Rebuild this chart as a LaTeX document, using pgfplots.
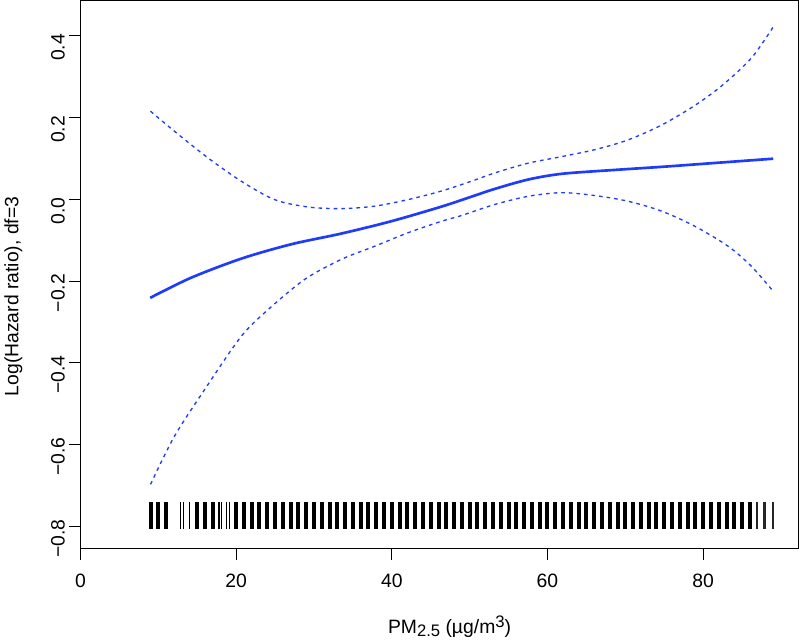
\documentclass[border=0pt]{standalone}
\usepackage{fontspec}
\setmainfont{Liberation Sans}
\usepackage{pgfplots}
\pgfplotsset{compat=1.18}
\definecolor{rblue}{RGB}{30,60,250}
\begin{document}
\begin{tikzpicture}
\begin{axis}[
  width=538.5pt, height=411pt, scale only axis,
  xmin=0, xmax=92.25, ymin=-0.8536, ymax=0.4856,
  axis line style={line width=0.75pt},
  tick style={line width=0.75pt, black},
  tick align=outside, major tick length=8.25pt,
  xtick pos=left, ytick pos=left,
  xtick={0,20,40,60,80}, xticklabels={0,20,40,60,80},
  ytick={-0.8,-0.6,-0.4,-0.2,0,0.2,0.4},
  yticklabels={−0.8,−0.6,−0.4,−0.2,0.0,0.2,0.4},
  tick label style={font=\fontsize{14.5}{17}\selectfont},
  xticklabel style={yshift=-7pt},
  yticklabel style={rotate=90, anchor=south, xshift=-9pt},
  xlabel={PM\raisebox{-0.3ex}{\fontsize{12.5}{14}\selectfont 2.5} (µg/m\raisebox{0.55ex}{\fontsize{12.5}{14}\selectfont 3})},
  xlabel style={at={(axis description cs:0.514,-0.1423)}, anchor=center, font=\fontsize{14.5}{17}\selectfont},
  ylabel={Log(Hazard ratio), df=3},
  ylabel style={at={(axis description cs:-0.0933,0.46)}, anchor=center, font=\fontsize{14.5}{17}\selectfont},
]
% main estimate
\addplot[rblue, line width=2pt, smooth, tension=0.5] coordinates {
(8.96,-0.241) (14.2,-0.192) (20.7,-0.145) (27.1,-0.110) (33.5,-0.084)
(39.9,-0.054) (46.4,-0.018) (50.2,0.006) (53.2,0.025) (57.5,0.048)
(61.8,0.062) (68.2,0.071) (74.6,0.079) (81.1,0.088) (89.0,0.099)};
% upper CI
\addplot[rblue, line width=1pt, dash pattern=on 2.7pt off 3pt, smooth, tension=0.5] coordinates {
(9,0.215) (12.08,0.166) (16.38,0.101) (20.66,0.044) (24.94,-0.001) (29.23,-0.019)
(33.51,-0.023) (37.79,-0.017) (42.08,-0.001) (46.37,0.020) (50.23,0.044) (53.2,0.064)
(57.5,0.088) (61.79,0.104) (66.07,0.121) (70.36,0.145) (74.64,0.181)
(78.92,0.229) (82.5,0.279) (86.2,0.345) (89,0.421)};
% lower CI
\addplot[rblue, line width=1pt, dash pattern=on 2.7pt off 3pt, smooth, tension=0.5] coordinates {
(9,-0.697) (12.08,-0.579) (16.38,-0.453) (20.66,-0.335) (24.09,-0.270) (28.8,-0.196)
(33.51,-0.147) (37.79,-0.115) (42.08,-0.082) (46.37,-0.054) (48.93,-0.040) (53.2,-0.013)
(57.5,0.007) (61.79,0.016) (66.07,0.009) (70.36,-0.005) (74.64,-0.029) (78.92,-0.066)
(83.21,-0.115) (86.2,-0.164) (89,-0.225)};
% rug (thick)
\addplot[only marks, mark=|, mark size=10.1pt, mark options={line width=3pt, black}] coordinates {
(9,-0.773) (10,-0.773) (11,-0.773) (15,-0.773) (16,-0.773) (17,-0.773)
(20,-0.773) (21,-0.773) (22,-0.773) (23,-0.773) (24,-0.773) (25,-0.773) (26,-0.773)
(27,-0.773) (28,-0.773) (29,-0.773) (30,-0.773) (31,-0.773) (32,-0.773) (33,-0.773)
(34,-0.773) (35,-0.773) (36,-0.773) (37,-0.773) (38,-0.773) (39,-0.773) (40,-0.773)
(41,-0.773) (42,-0.773) (43,-0.773) (44,-0.773) (45,-0.773) (46,-0.773) (47,-0.773)
(48,-0.773) (49,-0.773) (50,-0.773) (51,-0.773) (52,-0.773) (53,-0.773) (54,-0.773)
(55,-0.773) (56,-0.773) (57,-0.773) (58,-0.773) (59,-0.773) (60,-0.773) (61,-0.773)
(62,-0.773) (63,-0.773) (64,-0.773) (65,-0.773) (66,-0.773) (67,-0.773) (68,-0.773)
(69,-0.773) (70,-0.773) (71,-0.773) (72,-0.773) (73,-0.773) (74,-0.773) (75,-0.773)
(76,-0.773) (77,-0.773) (78,-0.773) (79,-0.773) (80,-0.773) (81,-0.773) (82,-0.773)
(83,-0.773) (84,-0.773) (85,-0.773) (86,-0.773)};
% rug (thin)
\addplot[only marks, mark=|, mark size=10.1pt, mark options={line width=0.9pt, black}] coordinates {
(12.9,-0.773) (13.2,-0.773) (14,-0.773) (17.8,-0.773) (18.1,-0.773) (18.8,-0.773) (19.1,-0.773)};
% rug (medium)
\addplot[only marks, mark=|, mark size=10.1pt, mark options={line width=1.8pt, black!85}] coordinates {
(86.9,-0.773) (87.9,-0.773) (89,-0.773)};
\end{axis}
\end{tikzpicture}
\end{document}
